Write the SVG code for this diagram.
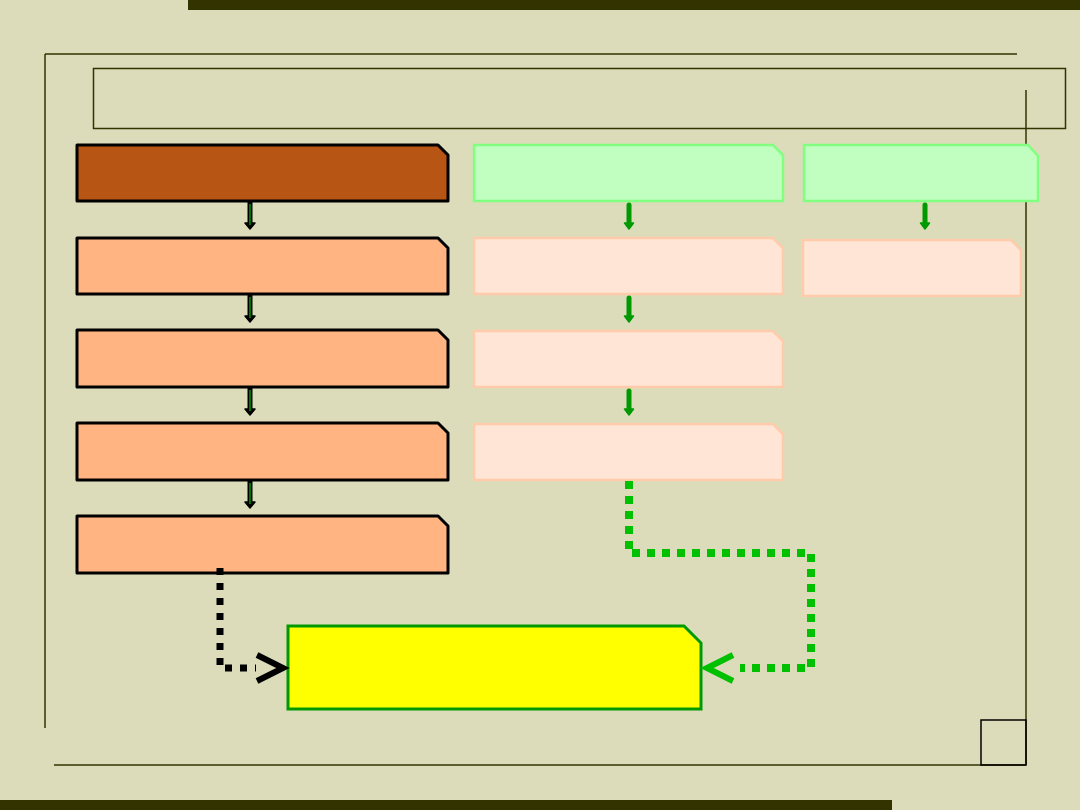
<svg xmlns="http://www.w3.org/2000/svg" width="1080" height="810" viewBox="0 0 1080 810">
<defs>
<style>
.frame{fill:none;stroke:#333300;stroke-width:1.5}
.dark{fill:#333300}
.lft{fill:#ffb482;stroke:#000;stroke-width:3;stroke-linejoin:round}
.lfttop{fill:#b75514;stroke:#000;stroke-width:3;stroke-linejoin:round}
.grn{fill:#c0ffc0;stroke:#80ff80;stroke-width:2.5}
.pnk{fill:#ffe5d5;stroke:#ffcbaa;stroke-width:2.5}
.yel{fill:#ffff00;stroke:#009900;stroke-width:3}
.arrK{stroke:#000;stroke-width:5;fill:none}
.arrKi{stroke:#009900;stroke-width:1.5;fill:none}
.arrG{stroke:#009900;stroke-width:5;fill:none;stroke-linecap:round}
.dotK{stroke:#000;stroke-width:7;fill:none;stroke-dasharray:7 8}
.dotG{stroke:#00c000;stroke-width:8;fill:none;stroke-dasharray:8 7}
</style>
</defs>
<rect width="1080" height="810" fill="#dcdcba"/>
<g id="decor">
<rect class="dark" x="188" y="0" width="892" height="10"/>
<rect class="dark" x="0" y="800" width="892" height="10"/>
<line class="frame" x1="45" y1="54" x2="1017" y2="54" stroke-width="2"/>
<line class="frame" x1="45" y1="54" x2="45" y2="728"/>
<line class="frame" x1="1026" y1="90" x2="1026" y2="765" stroke-width="2"/>
<line class="frame" x1="54" y1="765" x2="1026" y2="765"/>
<rect x="981" y="720" width="45" height="45" fill="none" stroke="#000" stroke-width="1.5"/>
<rect class="frame" x="93.5" y="68.5" width="972" height="60" stroke-width="1"/>
</g>
<g id="L1"><path class="lfttop" d="M77,145 H438 L448,155 V201 H77 Z"/></g>
<g id="L2"><path class="lft" d="M77,238 H438 L448,248 V294 H77 Z"/></g>
<g id="L3"><path class="lft" d="M77,330 H438 L448,340 V387 H77 Z"/></g>
<g id="L4"><path class="lft" d="M77,423 H438 L448,433 V480 H77 Z"/></g>
<g id="L5"><path class="lft" d="M77,516 H438 L448,526 V573 H77 Z"/></g>
<g id="M1"><path class="grn" d="M474,145 H773 L783,155 V201 H474 Z"/></g>
<g id="M2"><path class="pnk" d="M474,238 H773 L783,248 V294 H474 Z"/></g>
<g id="M3"><path class="pnk" d="M474,331 H773 L783,341 V387 H474 Z"/></g>
<g id="M4"><path class="pnk" d="M474,424 H773 L783,434 V480 H474 Z"/></g>
<g id="R1"><path class="grn" d="M804,145 H1028 L1038,156 V201 H804 Z"/></g>
<g id="R2"><path class="pnk" d="M803,240 H1011 L1021,250 V296 H803 Z"/></g>
<g id="Y"><path class="yel" d="M288,626 H684 L701,643 V709 H288 Z"/></g>
<g id="connectors">
<g>
<path class="arrK" d="M250,202 V226"/><path d="M245,223 L250,229 L255,223 Z" fill="#000" stroke="#000" stroke-width="1.5" stroke-linejoin="round"/><path class="arrKi" d="M250,204 V225"/>
<path class="arrK" d="M250,295 V319"/><path d="M245,316 L250,322 L255,316 Z" fill="#000" stroke="#000" stroke-width="1.5" stroke-linejoin="round"/><path class="arrKi" d="M250,297 V318"/>
<path class="arrK" d="M250,388 V412"/><path d="M245,409 L250,415 L255,409 Z" fill="#000" stroke="#000" stroke-width="1.5" stroke-linejoin="round"/><path class="arrKi" d="M250,390 V411"/>
<path class="arrK" d="M250,481 V505"/><path d="M245,502 L250,508 L255,502 Z" fill="#000" stroke="#000" stroke-width="1.5" stroke-linejoin="round"/><path class="arrKi" d="M250,483 V504"/>
</g>
<g>
<path class="arrG" d="M629,205 V225"/><path d="M624.5,223 L629,229 L633.5,223 Z" fill="#009900" stroke="#009900" stroke-width="1.5" stroke-linejoin="round"/>
<path class="arrG" d="M629,298 V318"/><path d="M624.5,316 L629,322 L633.5,316 Z" fill="#009900" stroke="#009900" stroke-width="1.5" stroke-linejoin="round"/>
<path class="arrG" d="M629,391 V411"/><path d="M624.5,409 L629,415 L633.5,409 Z" fill="#009900" stroke="#009900" stroke-width="1.5" stroke-linejoin="round"/>
<path class="arrG" d="M925,205 V225"/><path d="M920.5,223 L925,229 L929.5,223 Z" fill="#009900" stroke="#009900" stroke-width="1.5" stroke-linejoin="round"/>
</g>
<path class="dotK" d="M220,568 V668 H256"/>
<path d="M257,655 L283,668 L257,681" fill="none" stroke="#000" stroke-width="6"/>
<path class="dotG" d="M629,481 V553 H811 V668 H740"/>
<path d="M733,655 L707,668 L733,681" fill="none" stroke="#00c000" stroke-width="6"/>
</g>
</svg>
